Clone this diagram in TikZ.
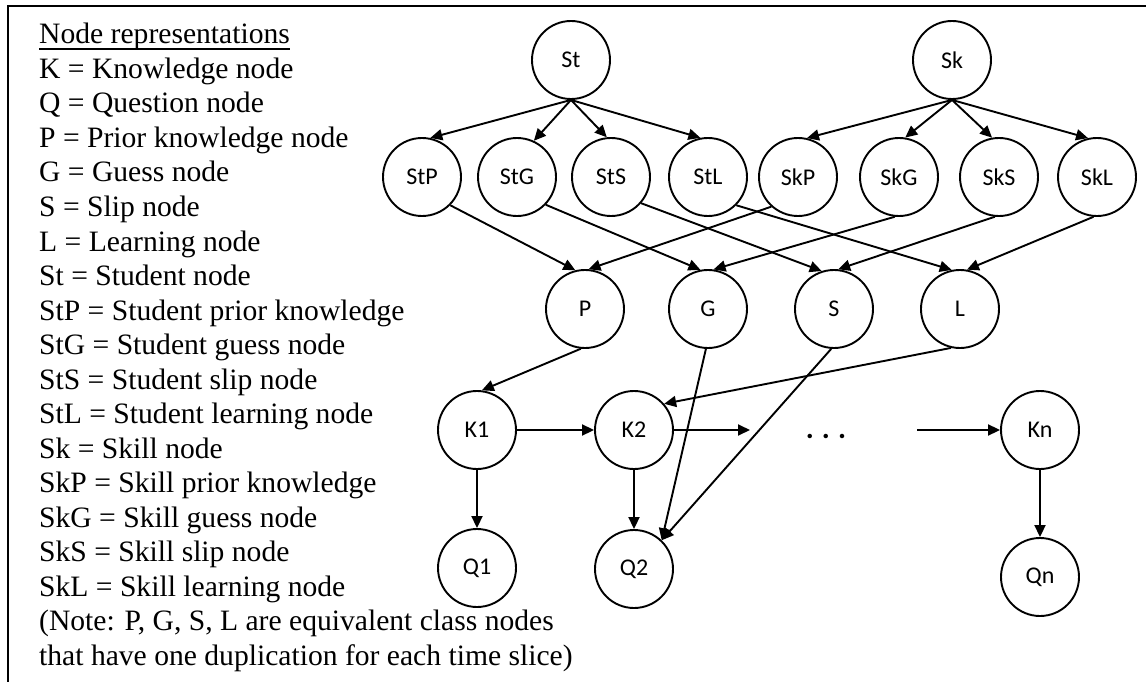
\documentclass[tikz,border=0pt]{standalone}
\usepackage{fontspec}
\setmainfont{Liberation Serif}
\newfontfamily\bnfont{Carlito}
\usetikzlibrary{arrows.meta}
\begin{document}
\begin{tikzpicture}[x=1pt,y=-1pt,
  bn/.style={draw, circle, line width=1.9pt, minimum size=78pt, inner sep=0pt,
             font=\bnfont\fontsize{24}{24}\selectfont},
  link/.style={line width=1.9pt, -{Triangle[length=12pt,width=11pt]}},
  legendline/.style={anchor=base west, inner sep=0pt,
             font=\fontsize{29.6}{34.5}\selectfont}]

\useasboundingbox (0,0) rectangle (1146,682);
% frame
\draw[line width=2pt] (1146,6) -- (8,6) -- (8,682);

% legend
\foreach \txt [count=\i from 0] in {
  {Node representations},
  {K = Knowledge node},
  {Q = Question node},
  {P = Prior knowledge node},
  {G = Guess node},
  {S = Slip node},
  {L = Learning node},
  {St = Student node},
  {StP = Student prior knowledge},
  {StG = Student guess node},
  {StS = Student slip node},
  {StL = Student learning node},
  {Sk = Skill node},
  {SkP = Skill prior knowledge},
  {SkG = Skill guess node},
  {SkS = Skill slip node},
  {SkL = Skill learning node},
  {(Note: P, G, S, L are equivalent class nodes},
  {that have one duplication for each time slice)}}
  \node[legendline] (leg\i) at (39,44+34.5*\i) {\txt};
\draw[line width=1.5pt] ([yshift=-5pt]leg0.base west) -- ([yshift=-5pt]leg0.base east);

% parent nodes
\node[bn] (St) at (571,60) {St};
\node[bn] (Sk) at (952,60) {Sk};

% student and skill parameter nodes
\node[bn] (StP) at (422,177) {StP};
\node[bn] (StG) at (517,177) {StG};
\node[bn] (StS) at (611,177) {StS};
\node[bn] (StL) at (708,177) {StL};
\node[bn] (SkP) at (798,177) {SkP};
\node[bn] (SkG) at (899,177) {SkG};
\node[bn] (SkS) at (999,177) {SkS};
\node[bn] (SkL) at (1097,177) {SkL};

% equivalence class nodes
\node[bn] (P) at (585,309) {P};
\node[bn] (G) at (708,309) {G};
\node[bn] (S) at (834,309) {S};
\node[bn] (L) at (960,309) {L};

% knowledge chain and questions
\node[bn] (K1) at (477,430) {K1};
\node[bn] (K2) at (634,430) {K2};
\node[bn] (Kn) at (1040,430) {Kn};
\node[bn] (Q1) at (477,568) {Q1};
\node[bn] (Q2) at (634,569) {Q2};
\node[bn] (Qn) at (1040,577) {Qn};
\node[anchor=base, inner sep=0pt, font=\bnfont\bfseries\fontsize{30}{30}\selectfont]
  (dots) at (826,438) {.\hspace{8pt}.\hspace{8pt}.};
\coordinate (k2out) at (750,430);
\coordinate (knin) at (917,430);

% parent to parameter nodes
\draw[link] (St.south) -- (StP.78);
\draw[link] (St.south) -- (StG.65);
\draw[link] (St.south) -- (StS.96);
\draw[link] (St.south) -- (StL.101);
\draw[link] (Sk.south) -- (SkP.77);
\draw[link] (Sk.south) -- (SkG.81);
\draw[link] (Sk.south) -- (SkS.100);
\draw[link] (Sk.south) -- (SkL.103);

% parameter nodes to class nodes
\draw[link] (StP.-45) -- (P.104);
\draw[link] (StG.-44) -- (G.101);
\draw[link] (StS.-41) -- (S.108);
\draw[link] (StL.-45) -- (L.102);
\draw[link] (SkP.-132) -- (P.85);
\draw[link] (SkG.-96) -- (G.82);
\draw[link] (SkS.-96) -- (S.84);
\draw[link] (SkL.-95) -- (L.80);

% class nodes to the time slices
\draw[link] (P.-96) -- (K1.83);
\draw[link] (G.-93) -- (Q2.46);
\draw[link] (S.-94) -- (Q2.46);
\draw[link] (L.-103) -- (K2.41);

% knowledge chain
\draw[link] (K1) -- (K2);
\draw[link] (K2) -- (k2out);
\draw[link] (knin) -- (Kn);
\draw[link] (K1) -- (Q1);
\draw[link] (K2) -- (Q2);
\draw[link] (Kn) -- (Qn);
\end{tikzpicture}
\end{document}
